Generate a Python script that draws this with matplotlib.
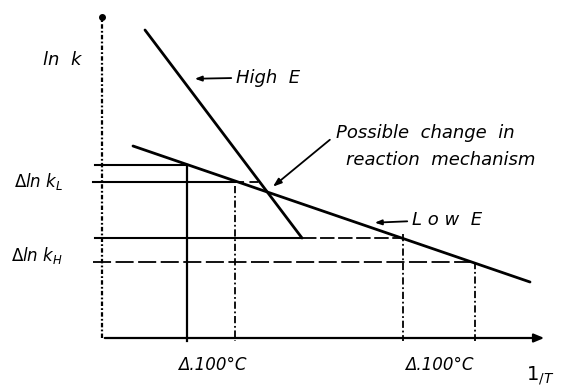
import matplotlib
matplotlib.use("Agg")
import matplotlib.pyplot as plt

# ---- data (arbitrary units: x = 1/T, y = ln k) ----
high_E_x = [1.075, 5.0]
high_E_y = [7.70, 2.50]
low_E_x = [0.775, 10.70]
low_E_y = [4.80, 1.40]

lnk_L_levels = [4.325, 3.90]
lnk_H_levels = [2.50, 1.90]
temp_x_L = [2.125, 3.325]
temp_x_H = [7.525, 9.325]

y_axis_top = 8.025
x_axis_end = 11.125

plt.rcParams['mathtext.fontset'] = 'dejavusans'
fig = plt.figure(figsize=(5.76, 3.91), dpi=100)
ax = fig.add_axes([0, 0, 1, 1])
ax.set_xlim(-2.55, 11.85)
ax.set_ylim(-1.325, 8.45)
ax.axis('off')

k = 'black'
# axes
ax.plot([0, 0], [0, y_axis_top], color=k, lw=1.6, ls=(0, (2.0, 1.0, 0.8, 1.0)))
ax.plot([0], [y_axis_top], 'o', color=k, ms=4)
ax.annotate('', xy=(x_axis_end, 0), xytext=(0, 0),
            arrowprops=dict(arrowstyle='-|>,head_length=0.6,head_width=0.25', color=k, lw=1.6))

# main lines
ax.plot(high_E_x, high_E_y, color=k, lw=2.0, solid_capstyle='round')
ax.plot(low_E_x, low_E_y, color=k, lw=2.0, solid_capstyle='round')

# horizontal guide lines
ax.plot([-0.175, temp_x_L[0]], [lnk_L_levels[0]] * 2, color=k, lw=1.5)
ax.plot([-0.225, temp_x_L[1]], [lnk_L_levels[1]] * 2, color=k, lw=1.5)
ax.plot([temp_x_L[1], 4.0], [lnk_L_levels[1]] * 2, color=k, lw=1.3, ls=(0, (5, 3)))
ax.plot([-0.175, high_E_x[1]], [lnk_H_levels[0]] * 2, color=k, lw=1.5)
ax.plot([high_E_x[1], temp_x_H[0]], [lnk_H_levels[0]] * 2, color=k, lw=1.3, ls=(0, (8, 2)))
ax.plot([-0.225, temp_x_H[1]], [lnk_H_levels[1]] * 2, color=k, lw=1.3, ls=(0, (10, 2.5)))

# vertical guide lines
ax.plot([temp_x_L[0]] * 2, [lnk_L_levels[0], -0.07], color=k, lw=1.6)
ax.plot([temp_x_L[1]] * 2, [lnk_L_levels[1] - 0.1, -0.07], color=k, lw=1.3, ls=(0, (4, 1.5, 1, 1.5)))
ax.plot([temp_x_H[0]] * 2, [lnk_H_levels[0] + 0.1, -0.07], color=k, lw=1.3, ls=(0, (4, 1.5, 1, 1.5)))
ax.plot([temp_x_H[1]] * 2, [lnk_H_levels[1], -0.07], color=k, lw=1.3, ls=(0, (4, 1.5, 1, 1.5)))

tk = dict(color=k, style='italic', family='DejaVu Sans')
ax.text(-0.975, 6.95, r'$ln\ \ k$', ha='center', va='center', fontsize=13, **tk)
ax.text(-2.2, 3.92, r'$\Delta ln\ k_L$', ha='left', va='center', fontsize=12, **tk)
ax.text(-2.27, 2.07, r'$\Delta ln\ k_H$', ha='left', va='center', fontsize=12, **tk)

ax.text(3.35, 6.5, 'High  E', ha='left', va='center', fontsize=13, **tk)
ax.annotate('', xy=(2.25, 6.48), xytext=(3.3, 6.5),
            arrowprops=dict(arrowstyle='-|>,head_length=0.4,head_width=0.15', color=k, lw=1.3))

ax.text(5.85, 5.125, 'Possible  change  in', ha='left', va='center', fontsize=13, **tk)
ax.text(6.1, 4.45, 'reaction  mechanism', ha='left', va='center', fontsize=13, **tk)
ax.annotate('', xy=(4.22, 3.74), xytext=(5.75, 5.0),
            arrowprops=dict(arrowstyle='-|>,head_length=0.5,head_width=0.18', color=k, lw=1.3))

ax.text(7.75, 2.95, 'L o w  E', ha='left', va='center', fontsize=13, **tk)
ax.annotate('', xy=(6.75, 2.88), xytext=(7.7, 2.92),
            arrowprops=dict(arrowstyle='-|>,head_length=0.4,head_width=0.15', color=k, lw=1.3))

ax.text(2.75, -0.675, 'Δ.100°C', ha='center', va='center', fontsize=12, **tk)
ax.text(8.425, -0.675, 'Δ.100°C', ha='center', va='center', fontsize=12, **tk)
ax.text(10.95, -0.93, r'$1_{/T}$', ha='center', va='center', color=k, fontsize=14)

fig.savefig('out.png', dpi=100)
